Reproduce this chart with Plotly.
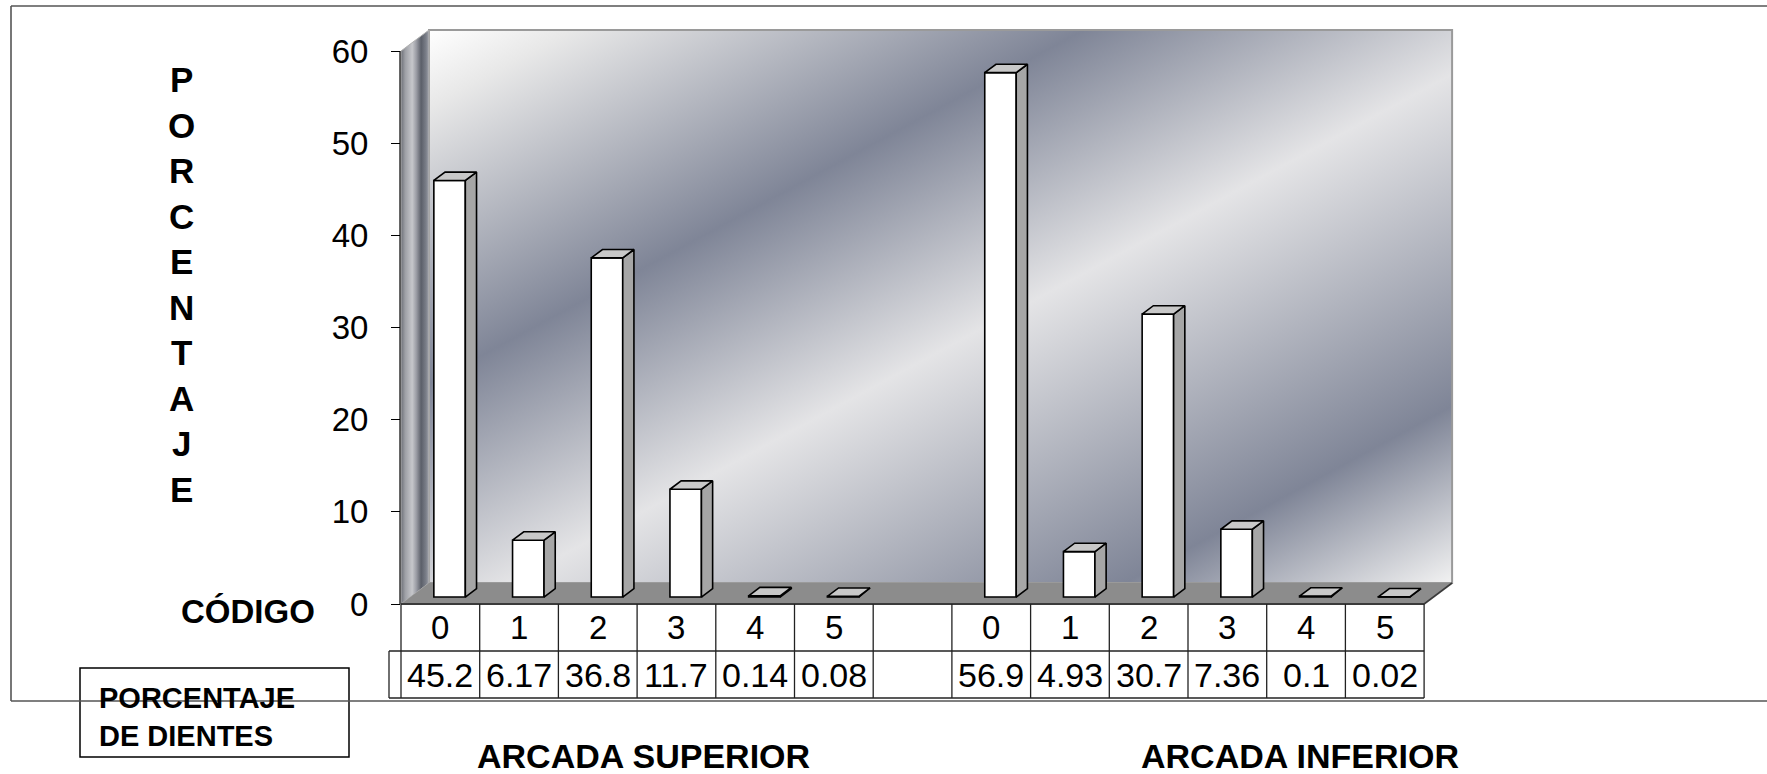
import base64
import plotly.graph_objects as go

# ---------------- data ----------------
codes = ["0", "1", "2", "3", "4", "5"]
superior = [45.2, 6.17, 36.8, 11.7, 0.14, 0.08]
inferior = [56.9, 4.93, 30.7, 7.36, 0.1, 0.02]
group_titles = ["ARCADA SUPERIOR", "ARCADA INFERIOR"]
y_ticks = [0, 10, 20, 30, 40, 50, 60]
y_title = "PORCENTAJE"
x_title = "CÓDIGO"
row_title = ["PORCENTAJE", "DE DIENTES"]

# category slots: six codes, an empty gap, six codes
cat_labels = codes + [""] + codes
cat_values = superior + [None] + inferior
n_cat = len(cat_labels)

# ---------------- geometry / style ----------------
W, H = 1767, 774
X0_PX = 401.0        # left edge of the front plane
CAT_PX = 78.7        # width of one category slot
Y0_PX = 604.0        # value 0 on the front plane
UNIT_PX = (604.0 - 51.0) / 60.0
DEPTH_PX = (28.0, 21.0)   # 3-D depth offset (right, up)
F1, F2 = 0.33, 0.73       # depth fractions of bar front / back faces
BW = 0.40                 # bar width in slot units
ROW1_PX, ROW2_PX = 651.0, 698.0
FONT = "Arial, 'Liberation Sans', sans-serif"
SIDE = "#a6a6a6"
TOP = "#c8c8c8"
EDGE = dict(color="black", width=1.6)


def xd(px):
    return -0.5 + (px - X0_PX) / CAT_PX


def yd(py):
    return (Y0_PX - py) / UNIT_PX


def xp(v):
    return X0_PX + (v + 0.5) * CAT_PX


def yp(v):
    return Y0_PX - v * UNIT_PX


def pxp(px):
    return px / W


def pyp(py):
    return 1 - py / H


DX = DEPTH_PX[0] / CAT_PX
DY = DEPTH_PX[1] / UNIT_PX
ymax = max(y_ticks)

fig = go.Figure()

# ---------------- 3-D columns ----------------
bar_x, bar_y = [], []
for i, v in enumerate(cat_values):
    if v is None:
        continue
    bar_x.append(i + F1 * DX)
    bar_y.append(v)

base = F1 * DY
fig.add_trace(go.Bar(
    x=bar_x, y=bar_y, base=base, width=BW,
    marker=dict(color="white", line=EDGE),
    hoverinfo="skip", showlegend=False,
))

ddx, ddy = (F2 - F1) * DX, (F2 - F1) * DY
for x, v in zip(bar_x, bar_y):
    xl, xr = x - BW / 2, x + BW / 2
    top = base + v
    fig.add_trace(go.Scatter(
        x=[xr, xr + ddx, xr + ddx, xr, xr],
        y=[base, base + ddy, top + ddy, top, base],
        mode="lines", fill="toself", fillcolor=SIDE, line=EDGE,
        hoverinfo="skip", showlegend=False,
    ))
    fig.add_trace(go.Scatter(
        x=[xl, xr, xr + ddx, xl + ddx, xl],
        y=[top, top, top + ddy, top + ddy, top],
        mode="lines", fill="toself", fillcolor=TOP, line=EDGE,
        hoverinfo="skip", showlegend=False,
    ))

# ---------------- walls and floor (gradient backdrop) ----------------
fl_x, fr_x = xp(-0.5), xp(n_cat - 0.5)
bl_x, br_x = fl_x + DEPTH_PX[0], fr_x + DEPTH_PX[0]
f_y0, f_ytop = yp(0), yp(ymax)
b_y0, b_ytop = f_y0 - DEPTH_PX[1], f_ytop - DEPTH_PX[1]

svg = f"""<svg xmlns='http://www.w3.org/2000/svg' width='{W}' height='{H}' viewBox='0 0 {W} {H}'>
<defs>
<linearGradient id='back' x1='0' y1='0' x2='1' y2='1'>
<stop offset='0' stop-color='#ffffff'/>
<stop offset='0.07' stop-color='#e8e8e8'/>
<stop offset='0.32' stop-color='#7f8597'/>
<stop offset='0.54' stop-color='#e4e4e6'/>
<stop offset='0.84' stop-color='#7f8597'/>
<stop offset='1' stop-color='#f2f2f2'/>
</linearGradient>
<linearGradient id='side' x1='0' y1='0' x2='1' y2='0'>
<stop offset='0' stop-color='#6c6f77'/>
<stop offset='0.15' stop-color='#9ea0a6'/>
<stop offset='0.4' stop-color='#c6c7cb'/>
<stop offset='0.55' stop-color='#9a9ca4'/>
<stop offset='0.72' stop-color='#5b5f69'/>
<stop offset='0.9' stop-color='#7c808a'/>
<stop offset='1' stop-color='#a4a6ad'/>
</linearGradient>
</defs>
<rect x='{bl_x}' y='{b_ytop}' width='{br_x - bl_x}' height='{b_y0 - b_ytop}' fill='url(#back)' stroke='#9a9a9a' stroke-width='2'/>
<polygon points='{fl_x},{f_y0} {fl_x},{f_ytop} {bl_x},{b_ytop} {bl_x},{b_y0}' fill='url(#side)' stroke='#b0b0b0' stroke-width='1'/>
<polygon points='{fl_x},{f_y0} {fr_x},{f_y0} {br_x},{b_y0} {bl_x},{b_y0}' fill='#8c8c8c'/>
<line x1='{fr_x}' y1='{f_y0}' x2='{br_x}' y2='{b_y0}' stroke='#3a3a3a' stroke-width='1.6'/>
</svg>"""
uri = "data:image/svg+xml;base64," + base64.b64encode(svg.encode()).decode()

shapes = []
# floor front edge
shapes.append(dict(type="line", xref="x", yref="y", x0=-0.5, x1=n_cat - 0.5, y0=0, y1=0,
                   line=dict(color="#3a3a3a", width=2)))
# value axis line
shapes.append(dict(type="line", xref="x", yref="y", x0=xd(X0_PX - 1), x1=xd(X0_PX - 1),
                   y0=0, y1=ymax, line=dict(color="black", width=1.2)))

# ---------------- data table under the plot ----------------
r1, r2 = yd(ROW1_PX), yd(ROW2_PX)
key_x = xd(X0_PX - 12)
tline = dict(color="#222222", width=1.3)
for k in range(n_cat + 1):
    shapes.append(dict(type="line", xref="x", yref="y", x0=k - 0.5, x1=k - 0.5,
                       y0=0, y1=r2, line=tline))
shapes.append(dict(type="line", xref="x", yref="y", x0=key_x, x1=key_x, y0=r1, y1=r2, line=tline))
for yy in (r1, r2):
    shapes.append(dict(type="line", xref="x", yref="y", x0=key_x, x1=n_cat - 0.5,
                       y0=yy, y1=yy, line=tline))

annotations = []
for i, (lab, v) in enumerate(zip(cat_labels, cat_values)):
    if lab:
        annotations.append(dict(x=i, y=r1 / 2, xref="x", yref="y", text=lab, showarrow=False,
                                xanchor="center", yanchor="middle",
                                font=dict(family=FONT, size=33, color="black")))
    if v is not None:
        annotations.append(dict(x=i, y=(r1 + r2) / 2, xref="x", yref="y", text=str(v),
                                showarrow=False, xanchor="center", yanchor="middle",
                                font=dict(family=FONT, size=34, color="black")))

# ---------------- titles ----------------
bold = dict(family=FONT, size=35, color="black")
annotations.append(dict(x=pxp(181), y=pyp(284), xref="paper", yref="paper",
                        xanchor="center", yanchor="middle",
                        text="<b>" + "<br>".join(y_title) + "</b>", showarrow=False,
                        align="center", font=bold))
annotations.append(dict(x=pxp(248), y=pyp(611), xref="paper", yref="paper",
                        xanchor="center", yanchor="middle",
                        text=f"<b>{x_title}</b>", showarrow=False,
                        font=dict(family=FONT, size=33, color="black")))
annotations.append(dict(x=pxp(97), y=pyp(717), xref="paper", yref="paper",
                        xanchor="left", yanchor="middle", align="left",
                        text="<b>" + "<br>".join(row_title) + "</b>", showarrow=False,
                        font=dict(family=FONT, size=29, color="black")))
for title, cx in zip(group_titles, (643, 1300)):
    annotations.append(dict(x=pxp(cx), y=pyp(756), xref="paper", yref="paper",
                            xanchor="center", yanchor="middle",
                            text=f"<b>{title}</b>", showarrow=False,
                            font=dict(family=FONT, size=34, color="black")))

# box around the table row title
shapes.append(dict(type="rect", xref="paper", yref="paper", x0=pxp(80), x1=pxp(349),
                   y0=pyp(668), y1=pyp(757), line=dict(color="black", width=1.5)))
# chart-area border
border = dict(color="#555555", width=1.6)
shapes.append(dict(type="line", xref="paper", yref="paper", x0=pxp(11), x1=1.0,
                   y0=pyp(6), y1=pyp(6), line=border))
shapes.append(dict(type="line", xref="paper", yref="paper", x0=pxp(11), x1=pxp(11),
                   y0=pyp(6), y1=pyp(701), line=border))
shapes.append(dict(type="line", xref="paper", yref="paper", x0=pxp(11), x1=1.0,
                   y0=pyp(701), y1=pyp(701), line=border))

fig.update_layout(
    width=W, height=H,
    margin=dict(l=0, r=0, t=0, b=0),
    paper_bgcolor="white", plot_bgcolor="white",
    showlegend=False,
    xaxis=dict(range=[xd(0), xd(W)], visible=False, fixedrange=True),
    yaxis=dict(range=[yd(H), yd(0)], anchor="free", position=pxp(X0_PX - 1), side="left",
               tickvals=y_ticks, ticktext=[str(t) for t in y_ticks],
               ticks="outside", ticklen=9, tickwidth=1.2, tickcolor="black",
               showline=False, showgrid=False, zeroline=False,
               tickfont=dict(family=FONT, size=33, color="black"),
               ticklabelstandoff=16, fixedrange=True),
    images=[dict(source=uri, xref="paper", yref="paper", x=0, y=1, sizex=1, sizey=1,
                 xanchor="left", yanchor="top", sizing="stretch", layer="below")],
    shapes=shapes,
    annotations=annotations,
)

fig.write_html("out.html")
